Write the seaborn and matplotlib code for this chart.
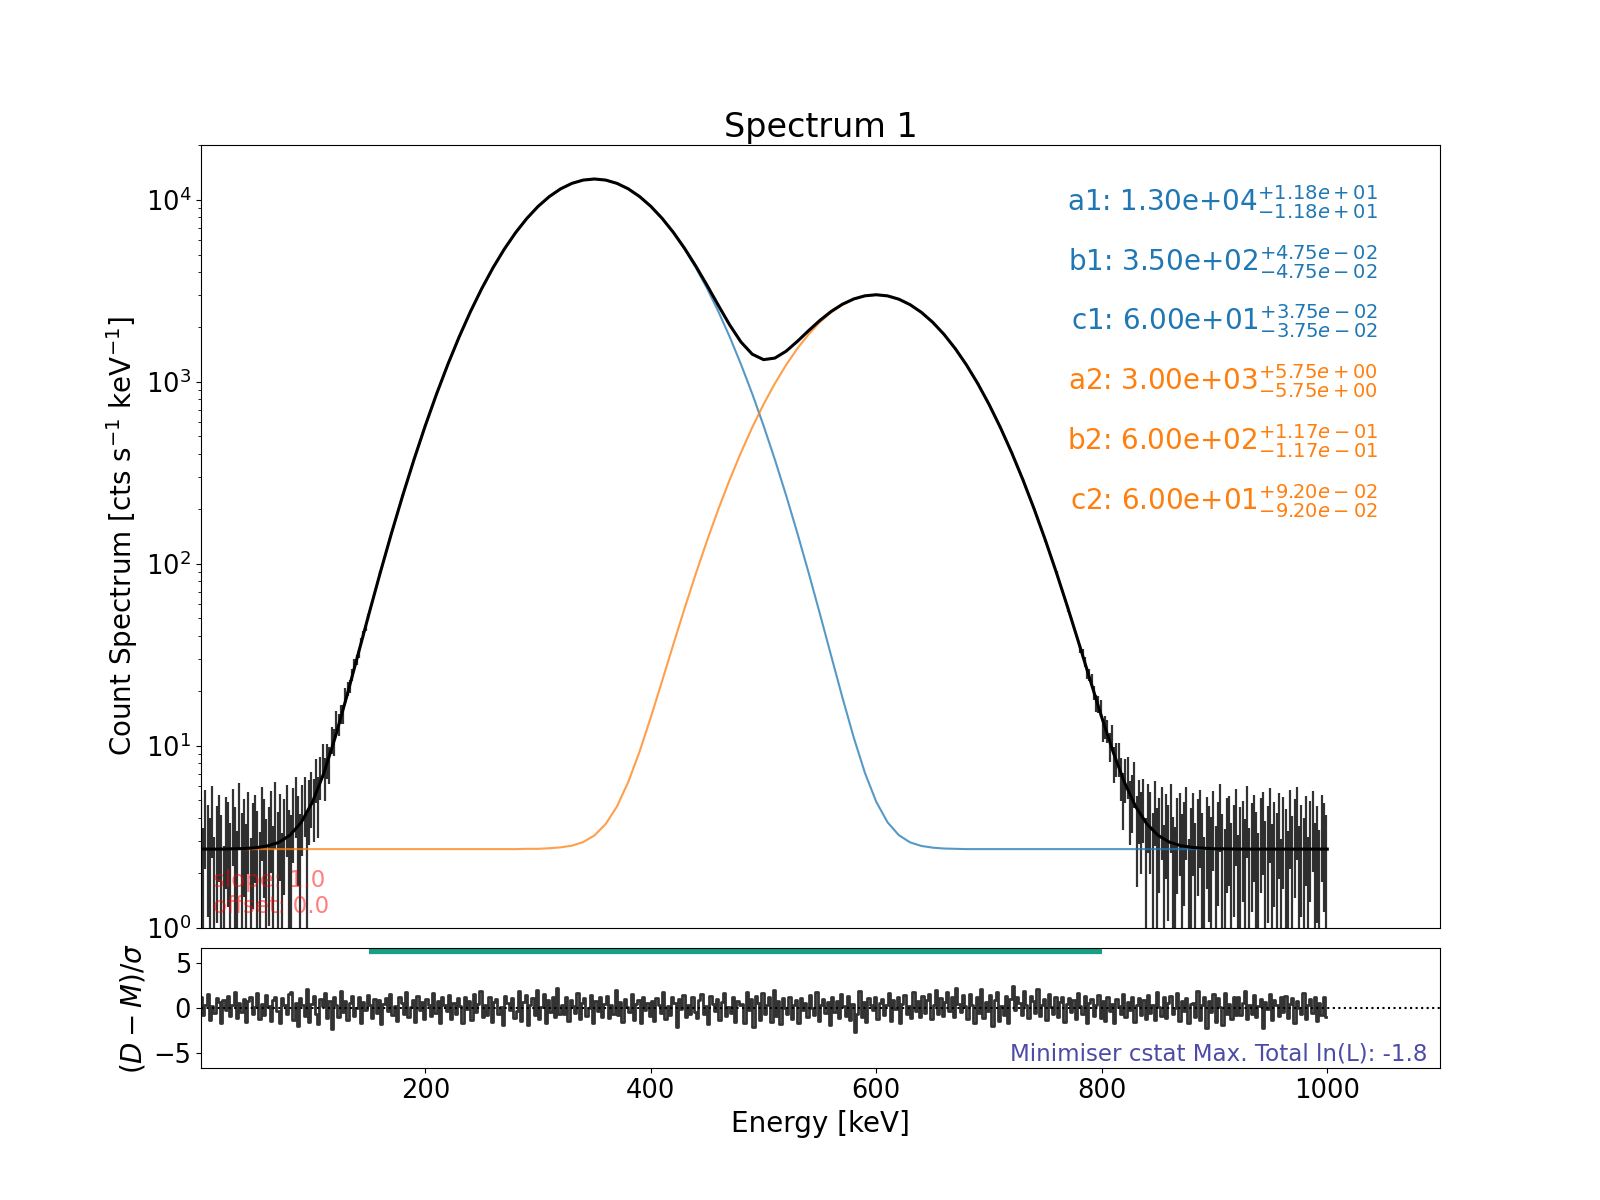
import numpy as np
import matplotlib
matplotlib.use('Agg')
import matplotlib.pyplot as plt
import seaborn as sns

## Model curves (total and the two line components), read every 10 keV
energy = np.arange(0, 1001, 10)
model_total = [2.70, 2.70, 2.70, 2.71, 2.72, 2.75, 2.81, 2.94, 3.22, 3.79,
               4.91, 7.06, 11.08, 18.35, 31.14, 52.96, 89.09, 147.1, 237.5, 374.1,
               573.9, 857.2, 1245.9, 1762.1, 2424.3, 3244.3, 4223.2, 5347.1, 6585.0, 7887.6,
               9189.3, 10412.3, 11475.3, 12300.3, 12823.6, 13003.2, 12824.4, 12302.1, 11478.8, 10418.9,
               9200.9, 7907.5, 6618.3, 5401.3, 4308.9, 3376.1, 2621.5, 2049.0, 1651.9, 1416.0,
               1322.0, 1348.1, 1470.8, 1666.1, 1908.7, 2173.0, 2433.3, 2665.9, 2849.0, 2965.7,
               3004.9, 2962.4, 2841.1, 2650.4, 2405.0, 2122.8, 1822.3, 1521.7, 1236.0, 976.7,
               750.8, 561.5, 408.7, 289.6, 199.9, 134.5, 88.4, 56.89, 36.03, 22.64,
               14.30, 9.26, 6.31, 4.63, 3.71, 3.21, 2.95, 2.82, 2.76, 2.73,
               2.71, 2.71, 2.70, 2.70, 2.70, 2.70, 2.70, 2.70, 2.70, 2.70,
               2.70]
model_line1 = [2.70, 2.70, 2.70, 2.71, 2.72, 2.75, 2.81, 2.94, 3.22, 3.79,
               4.91, 7.06, 11.08, 18.35, 31.14, 52.96, 89.09, 147.1, 237.5, 374.1,
               573.9, 857.2, 1245.9, 1762.1, 2424.3, 3244.3, 4223.2, 5347.1, 6585.0, 7887.6,
               9189.3, 10412.3, 11475.2, 12300.2, 12823.4, 13002.7, 12823.4, 12300.2, 11475.2, 10412.3,
               9189.3, 7887.6, 6585.0, 5347.1, 4223.2, 3244.3, 2424.3, 1762.1, 1245.9, 857.2,
               573.9, 374.1, 237.5, 147.1, 89.09, 52.96, 31.14, 18.35, 11.08, 7.06,
               4.91, 3.79, 3.22, 2.94, 2.81, 2.75, 2.72, 2.71, 2.70, 2.70] + [2.70] * 31
model_line2 = [2.70] * 29 + [
               2.71, 2.71, 2.73, 2.76, 2.82, 2.95, 3.21, 3.71, 4.63, 6.31,
               9.26, 14.30, 22.64, 36.03, 56.89, 88.40, 134.5, 199.9, 289.6, 408.7,
               561.5, 750.8, 976.7, 1236.0, 1521.7, 1822.3, 2122.7, 2404.9, 2650.2, 2840.6,
               2961.3, 3002.7, 2961.3, 2840.6, 2650.2, 2404.9, 2122.7, 1822.3, 1521.7, 1236.0,
               976.7, 750.8, 561.5, 408.7, 289.6, 199.9, 134.5, 88.40, 56.89, 36.03,
               22.64, 14.30, 9.26, 6.31, 4.63, 3.71, 3.21, 2.95, 2.82, 2.76,
               2.73, 2.71, 2.71] + [2.70] * 9

## Data (count spectrum), denser where the counts are low
data_e_low = np.arange(1, 150, 2)
data_low = [3.34, 1.74, 3.90, 2.94, 2.22, 4.22, 1.34, 2.86, 3.58, 2.38,
            1.02, 3.42, 3.10, 1.98, 3.98, 2.79, 1.59, 4.47, 2.47, 3.28,
            1.92, 3.77, 1.29, 3.06, 3.55, 2.59, 1.56, 4.13, 3.26, 2.16,
            2.82, 3.80, 1.83, 4.50, 2.53, 3.60, 1.49, 3.31, 4.24, 2.63,
            2.37, 4.07, 4.90, 3.50, 2.43, 4.27, 4.93, 2.42, 4.66, 5.34,
            4.76, 6.65, 4.89, 6.83, 8.42, 6.78, 8.38, 7.98, 10.80, 10.52,
            13.78, 13.06, 15.02, 14.94, 19.04, 20.54, 21.20, 24.56, 28.28, 29.50,
            32.14, 37.32, 40.84, 44.36, 50.78]
data_e_mid = np.arange(160, 771, 10)
data_mid = [89.6, 146.5, 238.2, 373.8, 574.6, 856.5, 1246.4, 1761.3, 2425.0, 3243.9,
            4224.1, 5346.2, 6585.7, 7887.0, 9190.2, 10411.6, 11476.0, 12299.5, 12824.8, 13002.5,
            12825.1, 12301.4, 11479.9, 10418.2, 9201.5, 7906.7, 6619.0, 5400.6, 4309.8, 3375.4,
            2622.1, 2048.2, 1652.7, 1415.3, 1322.8, 1347.5, 1471.4, 1665.3, 1909.5, 2172.2,
            2434.0, 2665.1, 2849.9, 2965.0, 3005.6, 2961.7, 2841.8, 2649.6, 2405.9, 2122.1,
            1823.0, 1520.9, 1236.8, 975.9, 751.5, 560.8, 409.4, 288.9, 200.6, 133.8,
            89.1, 56.2]
data_e_high = np.arange(781, 1000, 2)
data_high = [34.00, 32.23, 28.81, 24.91, 24.43, 22.97, 19.54, 17.16, 16.87, 16.08,
             12.23, 12.66, 12.09, 9.95, 11.17, 8.01, 8.52, 8.55, 6.79, 5.26,
             6.66, 6.90, 4.63, 5.12, 6.36, 3.47, 4.69, 3.78, 4.73, 2.18,
             4.36, 3.76, 2.46, 4.61, 2.77, 3.34, 4.15, 1.86, 3.65, 2.89,
             4.37, 2.26, 1.75, 3.33, 3.71, 2.41, 3.11, 4.14, 1.25, 2.76,
             3.71, 1.94, 3.30, 3.93, 2.49, 1.36, 3.44, 2.88, 2.24, 3.84,
             1.83, 3.11, 4.39, 2.39, 1.67, 3.34, 3.50, 1.98, 2.94, 3.98,
             1.42, 2.78, 3.18, 2.14, 4.22, 1.74, 3.02, 3.58, 2.54, 1.50,
             3.34, 3.74, 2.06, 2.86, 4.06, 1.90, 3.10, 2.46, 3.66, 1.26,
             3.42, 2.70, 1.58, 3.90, 2.30, 3.26, 4.14, 1.82, 2.94, 2.22,
             3.50, 1.34, 3.18, 3.82, 1.98, 2.86, 1.66, 3.58, 3.02, 2.38]
data_err = 1.8

## Residuals (D-M)/sigma, one value every 2 keV
resid_e = np.arange(1, 1000, 2)
resid = [1.2, -0.8, 0.4, 1.6, -1.3, 0.2, -0.5, 1.1, 0.7, -1.6, 0.9, -0.2, 1.4, -0.9, 0.3, 1.8, -1.1, 0.6, -0.4, 1.0,
         -1.5, 0.8, 1.3, -0.6, 0.1, 1.7, -1.2, 0.5, -0.8, 1.5, 0.2, -1.4, 0.9, 1.2, -0.3, -1.7, 1.1, 0.4, -0.7, 1.6,
         1.8, -1.3, 0.6, -2.0, 1.1, 0.3, -0.9, 2.1, -1.5, 0.5, 1.4, -0.6, -1.8, 1.0, 0.2, 1.7, -1.1, 0.8, -2.3, 1.2,
         0.3, -1.0, 1.9, -0.4, 0.8, -1.3, 0.6, 1.4, -0.9, 0.0, 1.2, -1.6, 0.7, -0.2, 1.5, 0.4, -1.1, 1.0, -0.5, 0.9,
         -1.8, 0.5, 1.1, -0.3, 1.6, -0.8, 0.2, -1.4, 1.3, 0.6, -0.6, 1.8, -1.0, 0.1, 0.9, -1.5, 1.4, -0.2, 0.7, -1.2,
         1.0, 0.3, -0.9, 1.7, -0.5, 0.8, -1.7, 1.2, 0.4, -0.3, 1.5, -1.2, 0.6, -0.7, 1.1, 0.2, -1.6, 1.3, -0.1, 0.8,
         -1.3, 1.6, -0.4, 0.5, 1.9, -1.0, 0.3, -0.8, 1.2, -1.5, 0.7, 1.0, -0.6, 0.1, -1.9, 1.4, 0.6, -0.2, 1.1, -1.1,
         -0.3, 1.9, -1.4, 0.7, 1.5, -1.9, 0.4, 1.1, -0.8, 2.0, -1.2, 0.1, 1.6, -1.7, 0.9, -0.4, 1.3, -1.0, 2.2, -0.6,
         0.4, -0.7, 1.3, -1.4, 0.9, 0.2, -0.5, 1.7, -1.2, 0.6, 1.1, -0.9, 0.0, 1.5, -1.6, 0.8, -0.3, 1.2, -1.0, 0.5,
         1.4, -1.1, 0.3, -0.6, 2.0, -0.8, 0.7, -1.5, 1.0, 0.1, -0.4, 1.6, -1.3, 0.5, 0.9, -1.7, 1.3, -0.2, 0.6, -0.9,
         0.8, -1.4, 1.1, 0.4, -0.5, 1.8, -1.2, 0.2, -0.8, 1.3, 0.6, -2.1, 1.0, -0.1, 1.5, -1.0, 0.3, -0.7, 1.2, -0.4,
         -1.1, 0.9, 1.6, -0.6, 0.2, -1.8, 1.4, 0.5, -0.3, 1.0, -1.3, 0.7, 1.7, -0.9, 0.1, -0.5, 1.2, -1.5, 0.8, 0.3,
         0.5, -1.6, 1.8, -0.2, 1.0, -2.1, 1.4, 0.6, -1.3, 1.7, -0.7, 0.3, 1.2, -1.5, 2.0, -0.9, 0.8, -1.8, 1.1, 0.0,
         -0.7, 1.3, -1.2, 0.4, 0.9, -1.6, 1.1, -0.2, 0.6, -1.0, 1.5, 0.0, -0.8, 1.8, -1.4, 0.3, 1.0, -0.5, 0.7, -1.9,
         1.2, -0.4, 0.8, -1.1, 1.6, 0.2, -0.9, 1.4, -1.3, 0.5, -2.6, -0.6, 1.9, -1.0, 0.7, -1.5, 1.1, 0.4, -0.2, 1.3,
         -1.2, 0.6, 1.0, -0.8, 0.3, 1.7, -1.4, 0.9, -0.1, 1.2, -1.6, 0.5, 1.5, -0.7, 0.2, -1.1, 1.8, -0.3, 0.8, -1.0,
         1.4, -0.5, 0.9, 1.6, -1.2, 0.4, 2.0, -0.6, 1.1, -0.9, 0.7, 1.8, -0.3, 1.3, -1.0, 2.2, 0.5, -0.4, 1.5, 0.2,
         -1.2, 1.6, 0.4, -1.7, 1.3, -0.5, 2.1, -1.1, 0.7, -0.3, 1.5, -2.0, 0.9, 1.8, -1.4, 0.2, -0.8, 1.4, -1.6, 1.0,
         2.5, -0.2, 1.2, 0.6, -0.8, 1.9, 0.3, -1.1, 1.4, 0.8, -0.5, 2.1, -0.9, 0.4, 1.0, -1.3, 1.6, 0.1, -0.6, 1.2,
         -1.0, 0.7, 1.3, -1.5, 0.5, 1.1, -0.4, 0.9, -1.2, 1.7, 0.2, -0.7, 1.4, -1.6, 0.6, 1.0, -0.9, 0.3, 1.5, -1.1,
         0.8, -1.4, 1.2, -0.3, 0.5, -1.7, 1.0, 0.2, -0.6, 1.6, -1.0, 0.7, -0.2, 1.3, -1.5, 0.4, 1.1, -0.8, 0.9, -1.2,
         1.5, -0.5, 0.3, -1.3, 1.8, 0.1, -0.9, 1.2, -1.1, 0.6, 1.4, -0.7, 0.0, 1.7, -1.4, 0.8, -0.3, 1.1, -1.6, 0.5,
         0.6, -1.0, 1.9, -1.3, 0.3, 1.2, -2.2, 0.8, -0.4, 1.6, -1.5, 1.1, 0.1, -1.9, 1.7, -0.7, 0.5, -1.2, 1.3, -0.8,
         1.3, -0.8, 0.6, 1.9, -1.2, 0.4, -0.6, 1.5, -1.0, 0.2, 1.0, -2.2, 0.7, -0.1, 1.6, -1.3, 0.9, 0.3, -0.9, 1.2,
         -0.4, 1.4, -1.1, 0.5, 1.1, -1.6, 0.8, 0.0, -0.7, 1.7, -1.2, 0.3, 1.0, -0.5, 1.3, -1.4, 0.6, -0.8, 1.2, -1.0]

fit_range = [150, 800]

## Fitted parameters
param_names = ['a1', 'b1', 'c1', 'a2', 'b2', 'c2']
param_vals = [1.30e4, 3.50e2, 6.00e1, 3.00e3, 6.00e2, 6.00e1]
param_errs = [1.18e1, 4.75e-2, 3.75e-2, 5.75e0, 1.17e-1, 9.20e-2]
param_colors = ['#1f77b4'] * 3 + ['#ff7f0e'] * 3

## Figure
fig = plt.figure(figsize=(16, 12), dpi=100)
ax = fig.add_axes([0.1256, 0.227, 0.7744, 0.6522])
ax_res = fig.add_axes([0.1256, 0.1097, 0.7744, 0.1003], sharex=ax)

ax.set_yscale('log')
for xe, ye in [(data_e_low, data_low), (data_e_mid, data_mid), (data_e_high, data_high)]:
    ax.errorbar(xe, ye, yerr=data_err, fmt='none', ecolor='k', elinewidth=1.6, alpha=0.8, zorder=1)

sns.lineplot(x=energy, y=model_line1, ax=ax, color='#1f77b4', lw=1.5, alpha=0.75, estimator=None, zorder=2)
sns.lineplot(x=energy, y=model_line2, ax=ax, color='#ff7f0e', lw=1.5, alpha=0.75, estimator=None, zorder=2)
sns.lineplot(x=energy, y=model_total, ax=ax, color='k', lw=2.2, estimator=None, zorder=3)

ax.set_xlim(1, 1100)
ax.set_ylim(1, 2e4)
ax.set_title('Spectrum 1', fontsize=24)
ax.set_ylabel('Count Spectrum [cts s$^{-1}$ keV$^{-1}$]', fontsize=20)
ax.tick_params(axis='both', which='major', labelsize=18.5)
ax.tick_params(axis='x', which='both', bottom=False, labelbottom=False)

for i in range(len(param_names)):
    txt = f"{param_names[i]}: {param_vals[i]:.2e}$^{{+{param_errs[i]:.2e}}}_{{-{param_errs[i]:.2e}}}$"
    ax.text(0.95, 0.927 - 0.0763 * i, txt, transform=ax.transAxes, ha='right', va='center',
            fontsize=20, color=param_colors[i])

ax.text(0.01, 0.012, 'slope: 1.0\noffset: 0.0', transform=ax.transAxes, ha='left', va='bottom',
        fontsize=16.5, color='red', alpha=0.5)

# residual panel
sns.lineplot(x=resid_e, y=resid, ax=ax_res, color='#333333', lw=2.0, drawstyle='steps-mid', estimator=None)
ax_res.axhline(0, color='k', ls=':', lw=1.5)
ax_res.plot(fit_range, [6.35, 6.35], color='#17a085', lw=4.5, solid_capstyle='butt')
ax_res.set_ylim(-6.7, 6.7)
ax_res.set_yticks([-5, 0, 5])
ax_res.set_xticks([200, 400, 600, 800, 1000])
ax_res.tick_params(axis='both', labelsize=18.5)
ax_res.set_xlabel('Energy [keV]', fontsize=20)
ax_res.set_ylabel(r'$(D-M)/\sigma$', fontsize=20)
ax_res.text(0.99, 0.025, 'Minimiser cstat Max. Total ln(L): -1.8', transform=ax_res.transAxes,
            ha='right', va='bottom', fontsize=16.6, color='navy', alpha=0.7)

fig.savefig('out.png', dpi=100)
